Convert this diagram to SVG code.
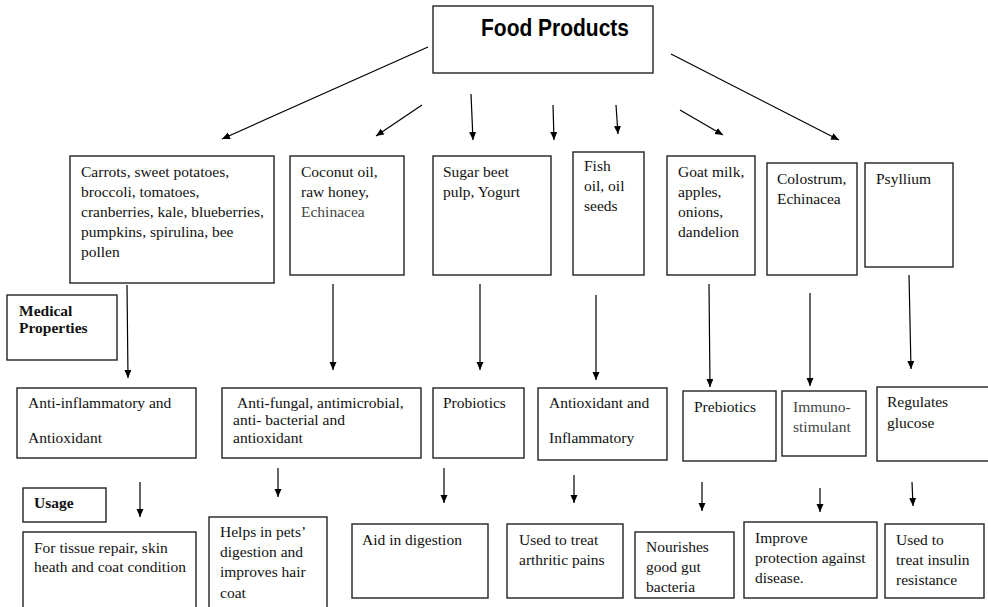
<svg xmlns="http://www.w3.org/2000/svg" width="988" height="607" viewBox="0 0 988 607">
<style>
.box{fill:#fff;stroke:#222;stroke-width:1.4}
.t{font-family:"Liberation Serif","Times New Roman",serif;font-size:15.5px;fill:#111}
.g{fill:#444}
.b{font-weight:bold}
.title{font-family:"Liberation Sans",Arial,sans-serif;font-size:23px;font-weight:bold;fill:#000}
.c line{stroke:#000;stroke-width:1.2;marker-end:url(#ah)}
</style>
<defs>
<marker id="ah" markerWidth="9" markerHeight="8" refX="8" refY="3.5" orient="auto" markerUnits="userSpaceOnUse">
<path d="M0,0 L8,3.5 L0,7 z" fill="#000"/>
</marker>
</defs>
<rect width="988" height="607" fill="#fff"/>

<g id="food-products"><rect class="box" x="433" y="6" width="220" height="67"/><text class="title" x="481" y="36" textLength="148" lengthAdjust="spacingAndGlyphs">Food Products</text></g>

<g id="p1"><rect class="box" x="70" y="156" width="204" height="127"/>
<text class="t" x="81" y="177">Carrots, sweet potatoes,</text>
<text class="t" x="81" y="197">broccoli, tomatoes,</text>
<text class="t" x="81" y="217">cranberries, kale, blueberries,</text>
<text class="t" x="81" y="237">pumpkins, spirulina, bee</text>
<text class="t" x="81" y="257">pollen</text></g>
<g id="p2"><rect class="box" x="290" y="156" width="114" height="119"/>
<text class="t" x="301" y="177">Coconut oil,</text>
<text class="t" x="301" y="197">raw honey,</text>
<text class="t g" x="301" y="217">Echinacea</text></g>
<g id="p3"><rect class="box" x="433" y="156" width="118" height="119"/>
<text class="t" x="443" y="177">Sugar beet</text>
<text class="t" x="443" y="197">pulp, Yogurt</text></g>
<g id="p4"><rect class="box" x="573" y="152" width="71" height="123"/>
<text class="t" x="584" y="171">Fish</text>
<text class="t" x="584" y="191">oil, oil</text>
<text class="t" x="584" y="211">seeds</text></g>
<g id="p5"><rect class="box" x="667" y="156" width="88" height="119"/>
<text class="t" x="678" y="177">Goat milk,</text>
<text class="t" x="678" y="197">apples,</text>
<text class="t" x="678" y="217">onions,</text>
<text class="t" x="678" y="237">dandelion</text></g>
<g id="p6"><rect class="box" x="767" y="163" width="90" height="112"/>
<text class="t" x="777" y="184">Colostrum,</text>
<text class="t" x="777" y="204">Echinacea</text></g>
<g id="p7"><rect class="box" x="865" y="163" width="88" height="104"/>
<text class="t" x="876" y="184">Psyllium</text></g>

<g id="medical-properties"><rect class="box" x="7" y="295" width="110" height="65"/>
<text class="t b" x="19" y="316">Medical</text>
<text class="t b" x="19" y="333">Properties</text></g>

<g id="m1"><rect class="box" x="17" y="388" width="179" height="70"/>
<text class="t" x="28" y="408">Anti-inflammatory and</text>
<text class="t" x="28" y="443">Antioxidant</text></g>
<g id="m2"><rect class="box" x="222" y="388" width="199" height="70"/>
<text class="t" x="237" y="408">Anti-fungal, antimicrobial,</text>
<text class="t" x="233" y="425">anti- bacterial and</text>
<text class="t" x="233" y="443">antioxidant</text></g>
<g id="m3"><rect class="box" x="433" y="388" width="91" height="70"/>
<text class="t" x="443" y="408">Probiotics</text></g>
<g id="m4"><rect class="box" x="538" y="388" width="129" height="72"/>
<text class="t" x="549" y="408">Antioxidant and</text>
<text class="t" x="549" y="443">Inflammatory</text></g>
<g id="m5"><rect class="box" x="683" y="391" width="93" height="70"/>
<text class="t" x="694" y="412">Prebiotics</text></g>
<g id="m6"><rect class="box" x="782" y="391" width="84" height="65"/>
<text class="t g" x="793" y="412">Immuno-</text>
<text class="t g" x="793" y="432">stimulant</text></g>
<g id="m7"><rect class="box" x="877" y="387" width="120" height="74"/>
<text class="t" x="887" y="407">Regulates</text>
<text class="t" x="887" y="428">glucose</text></g>

<g id="usage"><rect class="box" x="23" y="488" width="83" height="34"/>
<text class="t b" x="34" y="508">Usage</text></g>

<g id="u1"><rect class="box" x="23" y="532" width="173" height="85"/>
<text class="t" x="34" y="553">For tissue repair, skin</text>
<text class="t" x="34" y="572">heath and coat condition</text></g>
<g id="u2"><rect class="box" x="209" y="517" width="118" height="100"/>
<text class="t" x="220" y="537">Helps in pets’</text>
<text class="t" x="220" y="557">digestion and</text>
<text class="t" x="220" y="577">improves hair</text>
<text class="t" x="220" y="598">coat</text></g>
<g id="u3"><rect class="box" x="352" y="524" width="136" height="74"/>
<text class="t" x="362" y="545">Aid in digestion</text></g>
<g id="u4"><rect class="box" x="507" y="524" width="116" height="74"/>
<text class="t" x="519" y="545">Used to treat</text>
<text class="t" x="519" y="565">arthritic pains</text></g>
<g id="u5"><rect class="box" x="635" y="532" width="99" height="66"/>
<text class="t" x="646" y="552">Nourishes</text>
<text class="t" x="646" y="572">good gut</text>
<text class="t" x="646" y="592">bacteria</text></g>
<g id="u6"><rect class="box" x="744" y="522" width="133" height="76"/>
<text class="t" x="755" y="543">Improve</text>
<text class="t" x="755" y="563">protection against</text>
<text class="t" x="755" y="583">disease.</text></g>
<g id="u7"><rect class="box" x="885" y="524" width="99" height="74"/>
<text class="t" x="896" y="545">Used to</text>
<text class="t" x="896" y="565">treat insulin</text>
<text class="t" x="896" y="585">resistance</text></g>

<g id="connectors" class="c">
<line x1="428" y1="47" x2="222" y2="139"/>
<line x1="422" y1="105" x2="376" y2="136"/>
<line x1="471" y1="94" x2="473" y2="140"/>
<line x1="553" y1="105" x2="554" y2="140"/>
<line x1="616" y1="105" x2="618" y2="134"/>
<line x1="680" y1="110" x2="723" y2="135"/>
<line x1="671" y1="54" x2="839" y2="140"/>
<line x1="127" y1="285" x2="128" y2="378"/>
<line x1="333" y1="284" x2="333" y2="370"/>
<line x1="480" y1="284" x2="480" y2="370"/>
<line x1="596" y1="295" x2="596" y2="380"/>
<line x1="709" y1="284" x2="710" y2="387"/>
<line x1="810" y1="293" x2="810" y2="386"/>
<line x1="909" y1="275" x2="911" y2="369"/>
<line x1="140" y1="482" x2="140" y2="517"/>
<line x1="278" y1="468" x2="278" y2="497"/>
<line x1="444" y1="468" x2="444" y2="503"/>
<line x1="574" y1="475" x2="574" y2="503"/>
<line x1="702" y1="482" x2="702" y2="511"/>
<line x1="820" y1="488" x2="820" y2="512"/>
<line x1="912" y1="482" x2="913" y2="506"/>
</g>
</svg>
